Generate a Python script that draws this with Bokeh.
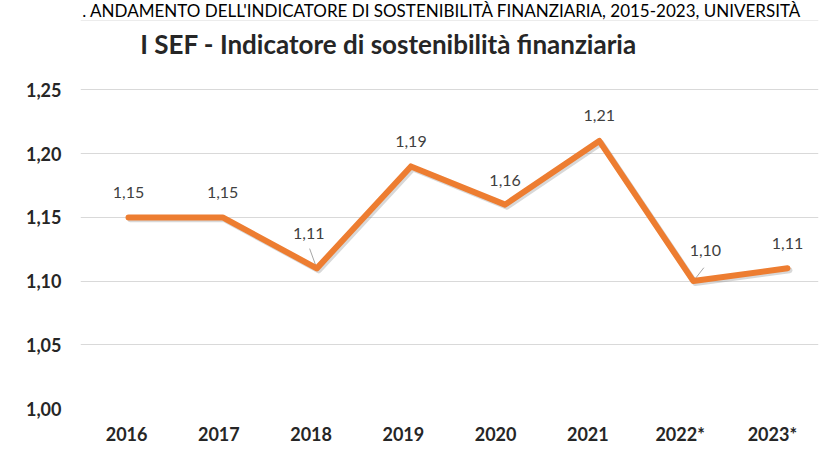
from bokeh.plotting import figure
from bokeh.layouts import column
from bokeh.models import (Range1d, FixedTicker, LinearAxis, CustomJSTickFormatter,
                          ColumnDataSource, Label, Span)
from bokeh.core.properties import value
from bokeh.embed import file_html
from bokeh.resources import INLINE

# ---------------- data ----------------
years = ["2016", "2017", "2018", "2019", "2020", "2021", "2022*", "2023*"]
sef = [1.15, 1.15, 1.11, 1.19, 1.16, 1.21, 1.10, 1.11]
y_ticks = [1.00, 1.05, 1.10, 1.15, 1.20, 1.25]
chart_title = "I SEF - Indicatore di sostenibilità finanziaria"
header_text = ". ANDAMENTO DELL'INDICATORE DI SOSTENIBILITÀ FINANZIARIA, 2015-2023, UNIVERSITÀ"

# ---------------- styling ----------------
ORANGE = "#ED7D31"
FONT = "Lato"
label_dx = [0, 0, -8, 0, 0, 0, 12, 0]
label_dy = [-25, -25, -35, -25, -24, -25, -31, -25]

labels = [f"{v:.2f}".replace(".", ",") for v in sef]
idx = list(range(len(years)))
n = len(years)
src = ColumnDataSource(dict(idx=idx, sef=sef, lab=labels, dx=label_dx, dy=label_dy))

W = 819
HEAD_H = 21
H = 447 - HEAD_H

# ---------------- header strip ----------------
head = figure(width=W, height=HEAD_H, x_range=Range1d(0, W), y_range=Range1d(0, HEAD_H),
              x_axis_location=None, y_axis_location=None, min_border=0,
              output_backend="svg", toolbar_location=None, title=None,
              outline_line_color=None, background_fill_color="white",
              border_fill_color="white")
head.grid.visible = False
head.add_layout(Label(x=2, y=HEAD_H / 2 + 0.5, text=header_text, text_font=FONT,
                      text_font_size="17px", text_align="left", text_baseline="middle",
                      text_color="#000000"))
head.add_layout(Span(location=0.5, dimension="width", line_color="#d9d9d9", line_width=1))

# ---------------- main chart ----------------
PPU = 1284.0
FRAME_H = H - 36
Y_END = 1.0 + FRAME_H / PPU
TOP = 447 - H          # picture row where the main chart starts
p = figure(width=W, height=H,
           x_range=Range1d(-0.51, 7.329),          # point positions
           y_range=Range1d(1.0, Y_END),
           x_axis_location=None,
           output_backend="svg", toolbar_location=None, title=None,
           min_border_left=80, min_border_right=1, min_border_top=0, min_border_bottom=36,
           background_fill_color="white", border_fill_color="white",
           outline_line_color=None)

# category slots for the axis labels, and a shifted copy for the line shadow
p.extra_x_ranges = {"cats": Range1d(-0.5, n - 0.5), "shadow_x": Range1d(-0.531, 7.308)}
p.extra_y_ranges = {"shadow_y": Range1d(1.0 + 0.00156, Y_END + 0.00156)}

xaxis = LinearAxis(x_range_name="cats", ticker=FixedTicker(ticks=idx),
                   formatter=CustomJSTickFormatter(args=dict(labels=years),
                                                   code="return labels[Math.round(tick)];"))
p.add_layout(xaxis, "below")

p.yaxis.ticker = FixedTicker(ticks=y_ticks)
p.yaxis.formatter = CustomJSTickFormatter(code="return tick.toFixed(2).replace('.', ',');")
for ax in (xaxis, p.yaxis[0]):
    ax.axis_line_color = None
    ax.major_tick_line_color = None
    ax.minor_tick_line_color = None
    ax.major_tick_out = 0
    ax.major_tick_in = 0
    ax.major_label_text_font = FONT
    ax.major_label_text_font_style = "bold"
    ax.major_label_text_font_size = "18px"
    ax.major_label_text_color = "#262626"
p.yaxis.major_label_standoff = 19
xaxis.major_label_standoff = 14

p.xgrid.visible = False
p.ygrid.grid_line_color = "#d9d9d9"
p.ygrid.grid_line_width = 1

# leader lines
lead_i = [years.index("2018"), years.index("2022*")]
p.ray(x=lead_i, y=[sef[i] for i in lead_i], length=[21, 17], length_units="screen",
      angle=[110, 52], angle_units="deg", line_color="#a6a6a6", line_width=1)

# shadow + line
p.line(x="idx", y="sef", source=src, x_range_name="shadow_x", y_range_name="shadow_y",
       line_color="#7f7f7f", line_alpha=0.3, line_width=6, line_join="round", line_cap="round")
p.line(x="idx", y="sef", source=src,
       line_color=ORANGE, line_width=6, line_join="round", line_cap="round")

# data labels
p.text(x="idx", y="sef", text="lab", x_offset="dx", y_offset="dy", source=src,
       text_font=value(FONT), text_font_size="16px",
       text_color="#404040", text_align="center", text_baseline="middle")

# chart title (centred at picture row 46)
p.add_layout(Label(x=308, y=FRAME_H - (46 - TOP), x_units="screen", y_units="screen",
                   text=chart_title, text_font=FONT, text_font_style="bold",
                   text_font_size="26px", text_align="center", text_baseline="middle",
                   text_color="#262626"))

layout = column(head, p, spacing=0)
open("out.html", "w").write(file_html(layout, INLINE))
